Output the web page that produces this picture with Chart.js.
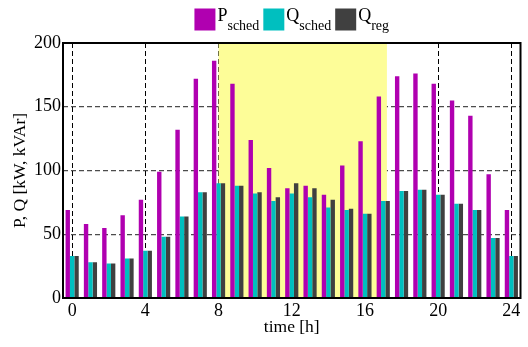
<!DOCTYPE html>
<html>
<head>
<meta charset="utf-8">
<script src="https://cdn.jsdelivr.net/npm/chart.js@4/dist/chart.umd.min.js"></script>
<style>
  html, body { margin: 0; padding: 0; background: #fff; }
  #wrap { width: 528px; height: 347px; }
</style>
</head>
<body>
<div id="wrap"><canvas id="c" width="528" height="347"></canvas></div>
<script>
// Hourly schedule, 0..24 h
const hours = [0,1,2,3,4,5,6,7,8,9,10,11,12,13,14,15,16,17,18,19,20,21,22,23,24];
const pSched = [69, 58, 55, 65, 77, 99, 132, 172, 186, 168, 124, 102, 86, 88, 81, 104, 123, 158, 174, 176, 168, 155, 143, 97, 69];
const qSched = [33, 28, 27, 31, 37, 48, 64, 83, 90, 88, 82, 76, 82, 79, 71, 69, 66, 76, 84, 85, 81, 74, 69, 47, 33];
const qReg   = [33, 28, 27, 31, 37, 48, 64, 83, 90, 88, 83, 79, 90, 86, 77, 70, 66, 76, 84, 85, 81, 74, 69, 47, 33];

// Legend label parts: main symbol + subscript
const seriesMain = ['P', 'Q', 'Q'];
const seriesSub  = ['sched', 'sched', 'reg'];
const seriesColors = ['#b000b0', '#00bfbf', '#404040'];

// Highlighted time window [h]
const shadeStart = 8;
const shadeEnd = 17.2;

const yTicks = [0, 50, 100, 150, 200];
const xTickEvery = 4;

const serif = "'Liberation Serif', 'Times New Roman', serif";

const shadePlugin = {
  id: 'shade',
  beforeDatasetsDraw(chart) {
    const {ctx, chartArea, scales} = chart;
    const x0 = scales.x.getPixelForValue(shadeStart);
    const x1 = scales.x.getPixelForValue(shadeEnd);
    ctx.save();
    ctx.fillStyle = '#fdfd98';
    ctx.fillRect(x0, chartArea.top, x1 - x0, chartArea.bottom - chartArea.top);
    ctx.restore();
  }
};

const framePlugin = {
  id: 'frame',
  afterDraw(chart) {
    const {ctx, chartArea} = chart;
    ctx.save();
    ctx.strokeStyle = '#000';
    ctx.lineWidth = 2;
    ctx.strokeRect(chartArea.left, chartArea.top, chartArea.right - chartArea.left, chartArea.bottom - chartArea.top);
    ctx.restore();
  }
};

// Legend with subscripted labels
const subLegendPlugin = {
  id: 'subLegend',
  afterDraw(chart) {
    const {ctx, chartArea} = chart;
    const mainFont = '18px ' + serif;
    const subFont = '14px ' + serif;
    const box = 21, boxH = 22, gap = 2, itemGap = 4;
    ctx.save();
    const widths = seriesMain.map((m, i) => {
      ctx.font = mainFont; const wm = ctx.measureText(m).width;
      ctx.font = subFont; const ws = ctx.measureText(seriesSub[i]).width;
      return {wm, ws, total: box + gap + wm + ws};
    });
    const total = widths.reduce((a, w) => a + w.total, 0) + itemGap * (widths.length - 1);
    let x = (chartArea.left + chartArea.right) / 2 - total / 2;
    const top = 8.5;
    ctx.textBaseline = 'alphabetic';
    ctx.textAlign = 'left';
    widths.forEach((w, i) => {
      ctx.fillStyle = chart.data.datasets[i].backgroundColor;
      ctx.fillRect(x, top, box, boxH);
      x += box + gap;
      ctx.fillStyle = '#000';
      ctx.font = mainFont;
      ctx.fillText(seriesMain[i], x, 21);
      x += w.wm;
      ctx.font = subFont;
      ctx.fillText(seriesSub[i], x, 30);
      x += w.ws + itemGap;
    });
    ctx.restore();
  }
};

new Chart(document.getElementById('c'), {
  type: 'bar',
  data: {
    labels: hours,
    datasets: [
      { label: 'P_sched', data: pSched, backgroundColor: seriesColors[0] },
      { label: 'Q_sched', data: qSched, backgroundColor: seriesColors[1] },
      { label: 'Q_reg',   data: qReg,   backgroundColor: seriesColors[2] }
    ]
  },
  options: {
    responsive: false,
    animation: false,
    devicePixelRatio: 1,
    layout: { padding: { top: 43, right: 7.5, left: 0, bottom: 0 } },
    datasets: { bar: { categoryPercentage: 0.72, barPercentage: 1.0, borderWidth: 0 } },
    plugins: { legend: { display: false }, tooltip: { enabled: false } },
    scales: {
      x: {
        z: 1,
        offset: true,
        afterFit(s) { s.height = 49; },
        border: { display: false, dash: [5, 3] },
        grid: {
          offset: false,
          drawTicks: false,
          tickLength: 0,
          lineWidth: 1,
          color: c => (c.index % xTickEvery === 0 ? '#000' : 'rgba(0,0,0,0)')
        },
        ticks: {
          autoSkip: false,
          maxRotation: 0,
          padding: 2,
          color: '#000',
          font: { family: serif, size: 18 },
          callback: (v, i) => (i % xTickEvery === 0 ? String(hours[i]) : '')
        },
        title: {
          display: true,
          text: 'time [h]',
          color: '#000',
          font: { family: serif, size: 17.5 },
          padding: { top: 0, bottom: 9 }
        }
      },
      y: {
        z: 1,
        min: 0,
        max: 200,
        afterFit(s) { s.width = 63; },
        afterBuildTicks(s) { s.ticks = yTicks.map(v => ({ value: v })); },
        border: { display: false, dash: [5, 3] },
        grid: {
          drawTicks: false,
          tickLength: 0,
          lineWidth: 1.3,
          color: 'rgba(0,0,0,0.7)'
        },
        ticks: {
          padding: 2,
          color: '#000',
          font: { family: serif, size: 18 }
        },
        title: {
          display: true,
          text: 'P, Q [kW, kVAr]',
          color: '#000',
          font: { family: serif, size: 17.5 },
          padding: { top: 10, bottom: 0 }
        }
      }
    }
  },
  plugins: [shadePlugin, framePlugin, subLegendPlugin]
});
</script>
</body>
</html>
